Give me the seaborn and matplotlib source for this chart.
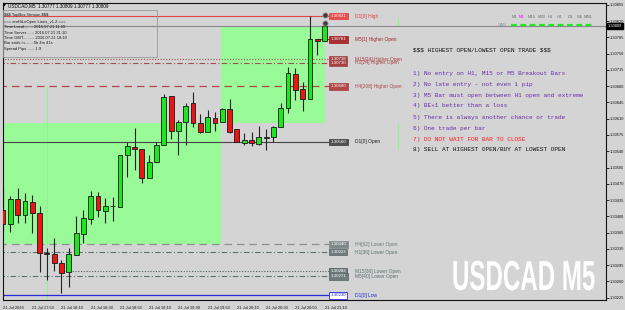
import matplotlib
matplotlib.use("Agg")
import matplotlib.pyplot as plt
import matplotlib.transforms as mtransforms
from matplotlib.patches import Rectangle
from matplotlib.patheffects import AbstractPathEffect
import seaborn as sns
import pandas as pd

# ---------------- data ----------------
times = ["17:30", "17:35", "17:40", "17:45", "17:50", "17:55", "18:00", "18:05", "18:10", "18:15",
         "18:20", "18:25", "18:30", "18:35", "18:40", "18:45", "18:50", "18:55", "19:00", "19:05",
         "19:10", "19:15", "19:20", "19:25", "19:30", "19:35", "19:40", "19:45", "19:50", "19:55",
         "20:00", "20:05", "20:10", "20:15", "20:20", "20:25", "20:30", "20:35", "20:40", "20:45",
         "20:50", "20:55", "21:00", "21:05", "21:10"]
opens = [1.30413, 1.30383, 1.30437, 1.30403, 1.30431, 1.30407, 1.30321, 1.30319, 1.30299, 1.30280,
         1.30317, 1.30362, 1.30394, 1.30444, 1.30411, 1.30422, 1.30420, 1.30532, 1.30549, 1.30545,
         1.30482, 1.30517, 1.30553, 1.30659, 1.30583, 1.30603, 1.30644, 1.30601, 1.30581, 1.30611,
         1.30603, 1.30631, 1.30588, 1.30558, 1.30564, 1.30555, 1.30568, 1.30570, 1.30592, 1.30633,
         1.30706, 1.30674, 1.30652, 1.30781, 1.30777]
highs = [1.30461, 1.30444, 1.30461, 1.30450, 1.30446, 1.30422, 1.30332, 1.30353, 1.30306, 1.30332,
         1.30401, 1.30413, 1.30454, 1.30452, 1.30439, 1.30441, 1.30532, 1.30560, 1.30590, 1.30545,
         1.30532, 1.30560, 1.30663, 1.30659, 1.30607, 1.30644, 1.30667, 1.30620, 1.30629, 1.30624,
         1.30633, 1.30652, 1.30588, 1.30579, 1.30581, 1.30594, 1.30588, 1.30594, 1.30644, 1.30721,
         1.30719, 1.30689, 1.30831, 1.30781, 1.30809]
lows = [1.30366, 1.30366, 1.30385, 1.30385, 1.30364, 1.30280, 1.30263, 1.30282, 1.30235, 1.30248,
        1.30317, 1.30342, 1.30383, 1.30398, 1.30385, 1.30390, 1.30420, 1.30484, 1.30499, 1.30472,
        1.30482, 1.30517, 1.30553, 1.30566, 1.30532, 1.30553, 1.30592, 1.30579, 1.30581, 1.30583,
        1.30603, 1.30579, 1.30560, 1.30553, 1.30551, 1.30553, 1.30542, 1.30560, 1.30592, 1.30622,
        1.30650, 1.30626, 1.30652, 1.30747, 1.30777]
closes = [1.30383, 1.30437, 1.30403, 1.30433, 1.30407, 1.30321, 1.30319, 1.30299, 1.30278, 1.30319,
          1.30364, 1.30396, 1.30444, 1.30413, 1.30422, 1.30423, 1.30532, 1.30551, 1.30545, 1.30482,
          1.30517, 1.30553, 1.30656, 1.30583, 1.30603, 1.30637, 1.30601, 1.30581, 1.30613, 1.30601,
          1.30631, 1.30581, 1.30560, 1.30564, 1.30558, 1.30570, 1.30570, 1.30592, 1.30633, 1.30708,
          1.30671, 1.30652, 1.30781, 1.30777, 1.30809]

xtick_labels = ["21 Jul 2016", "21 Jul 17:50", "21 Jul 18:10", "21 Jul 18:30", "21 Jul 18:50",
                "21 Jul 19:10", "21 Jul 19:30", "21 Jul 19:50", "21 Jul 20:10", "21 Jul 20:30",
                "21 Jul 20:50", "21 Jul 21:10"]
xtick_times = ["17:30", "17:50", "18:10", "18:30", "18:50", "19:10", "19:30", "19:50", "20:10",
               "20:30", "20:50", "21:10"]
price_ticks = [1.30225, 1.30260, 1.30295, 1.30330, 1.30365, 1.30400, 1.30435, 1.30470, 1.30505,
               1.30540, 1.30575, 1.30610, 1.30645, 1.30680, 1.30715, 1.30750, 1.30785, 1.30820,
               1.30855]
current_price = 1.30809

level_names = ["D1[0] High", "M5[1] Higher Open", "M15[24] Higher Open", "H1[24] Higher Open",
               "H4[208] Higher Open", "D1[0] Open", "H4[62] Lower Open", "H1[36] Lower Open",
               "M15[36] Lower Open", "M5[40] Lower Open", "D1[0] Low"]
level_prices = [1.30831, 1.30781, 1.30738, 1.30730, 1.30680, 1.30560, 1.30340, 1.30323,
                1.30282, 1.30271, 1.30230]
level_start = ["17:25", "21:05", "17:25", "17:25", "17:25", "17:25", "17:25", "17:25",
               "18:10", "17:25", "17:25"]

zone_start = ["17:25", "19:59"]
zone_end = ["19:59", "21:10"]
zone_low = [1.30340, 1.30601]
zone_high = [1.30601, 1.30807]

marker_times = ["21:10", "21:10"]
marker_prices = [1.30833, 1.30816]

rules = ["1) No entry on H1, M15 or M5 Breakout Bars",
         "2) No late entry - not even 1 pip",
         "3) M5 Bar must open between H1 open and extreme",
         "4) BE+1 better than a loss",
         "5) There is always another chance or trade",
         "6) One trade per bar",
         "7) DO NOT WAIT FOR BAR TO CLOSE",
         "8) SELL AT HIGHEST OPEN/BUY AT LOWEST OPEN"]
info_lines = ["$$$ TopBox Version $$$",
              "=== amHiLoOpen Lines_v1.2 ===",
              "Time Local.......: 2016.07.21 11:10",
              "Time Server......: 2016.07.21 21:10",
              "Time GMT.........: 2016.07.21 18:10",
              "Bar ends in......: 0h 4m 41s",
              "Spread Pips......: 1.9"]
timeframes = ["M1", "M5", "M15", "M30", "H1", "H4", "D1", "W1", "MN1"]

# ---------------- helpers ----------------
def tindex(t):
    h, m = t.split(":")
    return (int(h) * 60 + int(m) - (17 * 60 + 30)) / 5.0


class Stretch(AbstractPathEffect):
    """Scale glyph outlines about the text origin (gives a condensed look)."""
    def __init__(self, sx, sy):
        super().__init__()
        self.sx, self.sy = sx, sy

    def draw_path(self, renderer, gc, tpath, affine, rgbFace=None):
        renderer.draw_path(gc, tpath, mtransforms.Affine2D().scale(self.sx, self.sy) + affine,
                           rgbFace)


df = pd.DataFrame({"time": times, "open": opens, "high": highs, "low": lows, "close": closes})
df["x"] = [tindex(t) for t in df["time"]]
df["up"] = df["close"] >= df["open"]

# ---------------- style ----------------
sns.set_theme(style="white")
plt.rcParams['font.family'] = ['Liberation Sans', 'DejaVu Sans']
plt.rcParams['text.parse_math'] = False
BG = "#d4d4d4"

fig = plt.figure(figsize=(6.25, 3.10), dpi=100, facecolor=BG)
ax = fig.add_axes([3 / 625, 1 - 300 / 310, 603 / 625, 297 / 310])
ax.set_facecolor(BG)
ax.set_xlim(0.14, 82.5)
ax.set_ylim(1.30220, 1.30859)

# zones
for s, e, lo, hi in zip(zone_start, zone_end, zone_low, zone_high):
    ax.add_patch(Rectangle((tindex(s), lo), tindex(e) - tindex(s), hi - lo,
                           facecolor="#98fb98", edgecolor="none", zorder=0))

# thin green vertical markers
ax.vlines(tindex("18:00"), ax.get_ylim()[0], 1.30680, color="#8cf58c", lw=0.8, zorder=0.5)
ax.vlines(tindex("22:00") + 0.1, 1.30809, 1.30829, color="#8cf58c", lw=0.8, zorder=0.5)
ax.vlines(tindex("22:00") + 0.1, 1.30542, 1.30601, color="#8cf58c", lw=0.8, zorder=0.5)

# current price line
ax.axhline(current_price, color="#8a8a8a", lw=0.8, zorder=1)

# levels
lvl_styles = {
    "D1[0] High": dict(color="#e04848", ls="-", lw=0.8),
    "M5[1] Higher Open": dict(color="#a02828", ls="-", lw=0.8),
    "M15[24] Higher Open": dict(color="#a05050", ls=(0, (1, 1.5)), lw=0.8),
    "H1[24] Higher Open": dict(color="#a05050", ls=(0, (5, 2, 1, 2)), lw=0.8),
    "H4[208] Higher Open": dict(color="#b04848", ls=(0, (6, 4)), lw=0.9),
    "D1[0] Open": dict(color="#454545", ls="-", lw=0.8),
    "H4[62] Lower Open": dict(color="#8a9090", ls=(0, (6, 4)), lw=0.9),
    "H1[36] Lower Open": dict(color="#607070", ls=(0, (5, 2, 1, 2)), lw=0.8),
    "M15[36] Lower Open": dict(color="#506060", ls=(0, (1, 1.5)), lw=0.8),
    "M5[40] Lower Open": dict(color="#607070", ls=(0, (5, 2, 1, 2)), lw=0.8),
    "D1[0] Low": dict(color="#2828d8", ls="-", lw=0.9),
}
box_style = {
    "D1[0] High": ("#e85050", "white", "#e04040"),
    "M5[1] Higher Open": ("#a83030", "white", "#a02828"),
    "M15[24] Higher Open": ("#a84040", "white", "#a84040"),
    "H1[24] Higher Open": ("#a84040", "white", "#a84040"),
    "H4[208] Higher Open": ("#b04848", "white", "#b04848"),
    "D1[0] Open": ("#505050", "white", "#202020"),
    "H4[62] Lower Open": ("#808888", "white", "#707878"),
    "H1[36] Lower Open": ("#707c7c", "white", "#607070"),
    "M15[36] Lower Open": ("#707c7c", "white", "#607070"),
    "M5[40] Lower Open": ("#707c7c", "white", "#607070"),
    "D1[0] Low": ("white", "#2828d8", "#2828d8"),
}
x_box = tindex("21:14")
x_lab = tindex("21:31")
for name, p, st in zip(level_names, level_prices, level_start):
    sty = lvl_styles[name]
    ax.hlines(p, tindex(st), x_box, colors=sty["color"], linestyles=sty["ls"], lw=sty["lw"], zorder=1)
    face, tcol, lcol = box_style[name]
    ax.text(x_box, p, f"{p:.5f}", fontsize=3.2, color=tcol, va="center", ha="left", zorder=5,
            bbox=dict(boxstyle="square,pad=0.3", facecolor=face, edgecolor=sty["color"], lw=0.6))
    ax.text(x_lab, p, name, fontsize=3.5, color=lcol, va="center", ha="left", zorder=5)

# candles
ax.vlines(df["x"], df["low"], df["high"], color="#222222", lw=0.8, zorder=2)
body_lo = df[["open", "close"]].min(axis=1)
body_h = (df["close"] - df["open"]).abs()
ax.bar(df["x"], body_h, bottom=body_lo, width=0.66,
       color=["#1ee61e" if u else "#ee1414" for u in df["up"]],
       edgecolor="#1a1a1a", lw=0.6, zorder=3)

# high markers
mk = pd.DataFrame({"x": [tindex(t) for t in marker_times], "p": marker_prices})
sns.scatterplot(data=mk, x="x", y="p", ax=ax, s=14, color="#3a3a3a", edgecolor="#9a9a9a",
                linewidth=0.6, zorder=6, legend=False)

# axes cosmetics
for sp in ax.spines.values():
    sp.set_color("#101010")
    sp.set_linewidth(0.8)
ax.yaxis.tick_right()
ax.set_yticks(price_ticks)
ax.set_yticklabels([f"{p:.5f}" for p in price_ticks])
ax.set_xticks([tindex(t) for t in xtick_times])
ax.set_xticklabels(xtick_labels, ha="left")
ax.tick_params(axis="y", direction="out", length=2, width=0.6, labelsize=2.9, pad=1, colors="#111111")
ax.tick_params(axis="x", direction="out", length=3, width=0.6, labelsize=2.9, pad=1, colors="#111111")
ax.set_xlabel("")
ax.set_ylabel("")
ax.grid(False)

# current price label on axis
tr = mtransforms.blended_transform_factory(ax.transAxes, ax.transData)
ax.text(1.003, current_price, f"{current_price:.5f}", transform=tr, fontsize=2.9, color="white",
        va="center", ha="left", zorder=7, clip_on=False,
        bbox=dict(boxstyle="square,pad=0.3", facecolor="black", edgecolor="black"))

# ---------------- texts (figure pixel coords) ----------------
def fx(px):
    return px / 625

def fy(py):
    return 1 - py / 310

fig.text(fx(3), fy(5.3), "\u25bc", fontsize=3, color="black", va="center", ha="left",
         family=["DejaVu Sans"])
fig.text(fx(8), fy(5.3), "USDCAD,M5  1.30777 1.30809 1.30777 1.30809", fontsize=3.3,
         color="black", va="center", ha="left")
fig.patches.append(Rectangle((fx(3), fy(57)), fx(154), 47 / 310, transform=fig.transFigure,
                             facecolor="none", edgecolor="#9a9a9a", lw=0.6))
info_y = [15, 21.7, 26.5, 32.7, 38.3, 43.5, 48.7]
for t, yy in zip(info_lines, info_y):
    fig.text(fx(3.5), fy(yy), t, fontsize=3.0, color="#1a1a1a", va="center", ha="left")

mono = ["Liberation Mono", "DejaVu Sans Mono"]
fig.text(fx(413), fy(50.5), "$$$ HIGHEST OPEN/LOWEST OPEN TRADE $$$", fontsize=4.4,
         family=mono, color="#101010", va="center", ha="left")
rule_y = [73.3, 84.3, 95.2, 106, 117.3, 128.3, 139, 149.5]
for i, (t, yy) in enumerate(zip(rules, rule_y)):
    col = "#6a2cb0"
    if i == 6:
        col = "#ff1a1a"
    elif i == 7:
        col = "#101010"
    fig.text(fx(413), fy(yy), t, fontsize=4.4, family=mono, color=col, va="center", ha="left")

tf_x = [511.5, 518.5, 528, 537.5, 548, 557, 567.5, 576.5, 583.5]
for t, xx in zip(timeframes, tf_x):
    fig.text(fx(xx), fy(16.5), t, fontsize=3.0, color="#ff00ff" if t == "M5" else "#6e6e6e",
             va="center", ha="left")
fig.text(fx(498), fy(25.5), "CAN", fontsize=3.0, color="#8a8a8a", va="center", ha="left")
fig.lines.append(plt.Line2D([fx(511), fx(593)], [fy(25), fy(25)], transform=fig.transFigure,
                            color="#22e622", lw=1.6, ls=(0, (2.6, 1.6))))

# watermark: bold white text, ~144 px wide, stretched vertically to ~30 px cap height
wm = fig.text(fx(452), fy(290), "USDCAD M5", fontsize=30, color="white", fontweight="bold",
              family=["Liberation Sans"], va="baseline", ha="left")
fig.canvas.draw()
w30 = wm.get_window_extent().width
fs = 30 * 143 / w30
cap_px = 0.716 * fs * 100 / 72
wm.set_fontsize(fs)
wm.set_path_effects([Stretch(1.0, 30 / cap_px)])

fig.savefig("out.png", dpi=100, facecolor=BG)
